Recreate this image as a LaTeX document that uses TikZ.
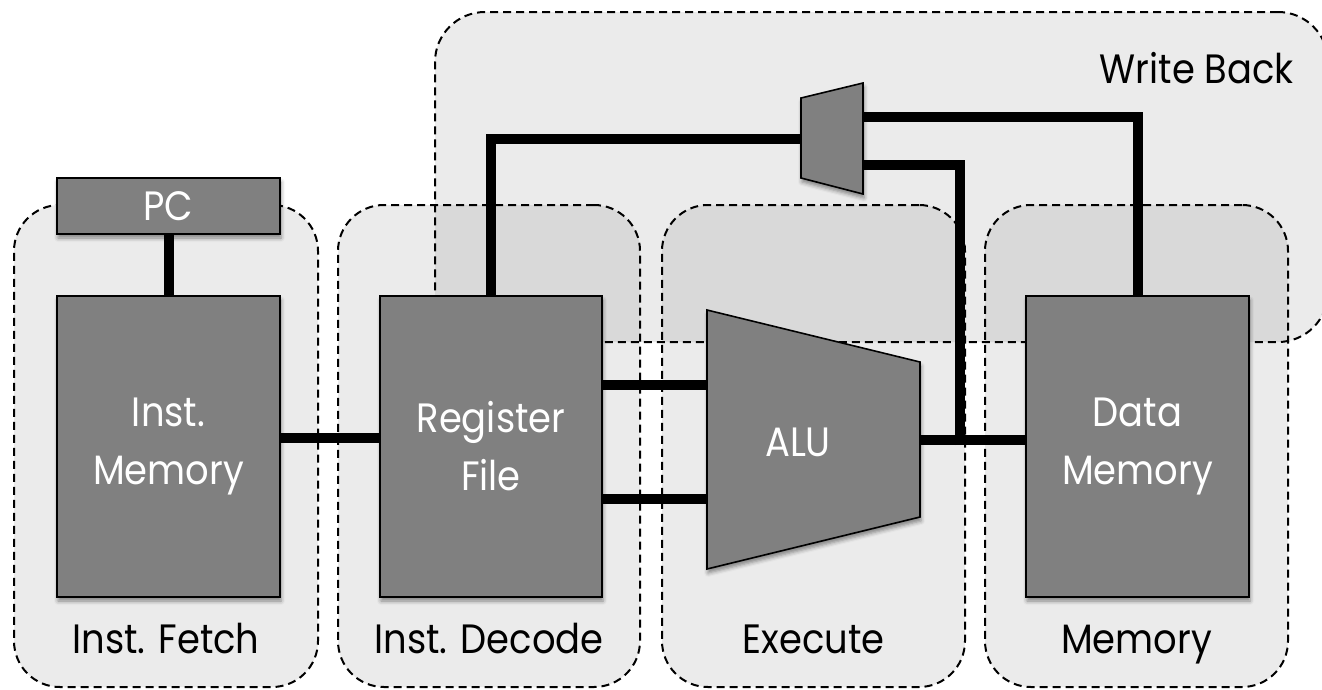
\documentclass[tikz,border=0pt]{standalone}
\usepackage{fontspec}
\setmainfont{Poppins}[FakeStretch=0.9]
\usetikzlibrary{calc,shadows.blur}
\definecolor{blockgray}{HTML}{808080}
\tikzset{
  stagebox/.style={draw, line width=2pt, dash pattern=on 8pt off 5pt,
    rounded corners=46pt, fill=black, fill opacity=0.08, draw opacity=1,
    inner sep=0pt, outer sep=0pt},
  block/.style={draw, line width=1.6pt, fill=blockgray, text=white,
    inner sep=0pt, outer sep=0pt, align=center,
    font=\fontsize{41}{58}\selectfont,
    blur shadow={shadow xshift=1pt, shadow yshift=-4pt,
      shadow blur radius=4pt, shadow opacity=45}},
  wire/.style={line width=10pt},
  stagelabel/.style={anchor=base, inner sep=0pt, font=\fontsize{41}{48}\selectfont},
}
\begin{document}
\begin{tikzpicture}[x=1pt,y=-1pt]
\useasboundingbox (0,0) rectangle (1322,689);

% pipeline stages
\node[stagebox, minimum width=304pt, minimum height=482pt] (fetch)  at (166,446) {};
\node[stagebox, minimum width=302pt, minimum height=482pt] (decode) at (489,446) {};
\node[stagebox, minimum width=303pt, minimum height=482pt] (exec)   at (813.5,446) {};
\node[stagebox, minimum width=303pt, minimum height=482pt] (mem)    at (1136.5,446) {};
\node[stagebox, rounded corners=50pt, minimum width=893pt, minimum height=330pt] (wb) at (881.5,177) {};

\node[stagelabel] (fetchlbl)  at (166,653) {Inst. Fetch};
\node[stagelabel] (decodelbl) at (489,653) {Inst. Decode};
\node[stagelabel] (execlbl)   at (813.5,653) {Execute};
\node[stagelabel] (memlbl)    at (1136.5,653) {Memory};
\node[stagelabel, anchor=base east] (wblbl) at (1294,83) {Write Back};

% ports of the ALU and the write-back mux
\coordinate (alua) at (707,385);
\coordinate (alub) at (707,499);
\coordinate (aluo) at (920,440);
\coordinate (junc) at (960,440);
\coordinate (muxa) at (863,117);
\coordinate (muxb) at (863,165);
\coordinate (muxo) at (801,139);

% blocks
\node[block, minimum width=223pt, minimum height=56pt] (pc) at (168.5,206) {PC};
\node[block, minimum width=223pt, minimum height=301pt] (imem) at (168.5,446.5) {Inst.\\Memory};
\node[block, minimum width=222pt, minimum height=301pt] (reg) at (491,446.5) {Register\\File};
\node[block, minimum width=223pt, minimum height=301pt] (dmem) at (1137.5,446.5) {Data\\Memory};

% wires
\draw[wire] (pc.south) -- (imem.north);
\draw[wire] (imem.east|-0,438) -- (reg.west|-0,438);
\draw[wire] (reg.east|-alua) -- (alua);
\draw[wire] (reg.east|-alub) -- (alub);
\draw[wire] (aluo) -- (dmem.west|-aluo);
\draw[wire] ($(junc)+(0,5)$) |- (muxb);
\draw[wire] (dmem.north) |- (muxa);
\draw[wire] (reg.north) |- (muxo);

% ALU and mux bodies
\draw[block] (707,310) -- (920,362) -- (920,517) -- (707,569) -- cycle;
\node[anchor=base, text=white, font=\fontsize{41}{48}\selectfont, inner sep=0pt] (alulbl) at (798,456) {ALU};
\draw[block] (801,98) -- (863,83) -- (863,194) -- (801,178) -- cycle;
\end{tikzpicture}
\end{document}
